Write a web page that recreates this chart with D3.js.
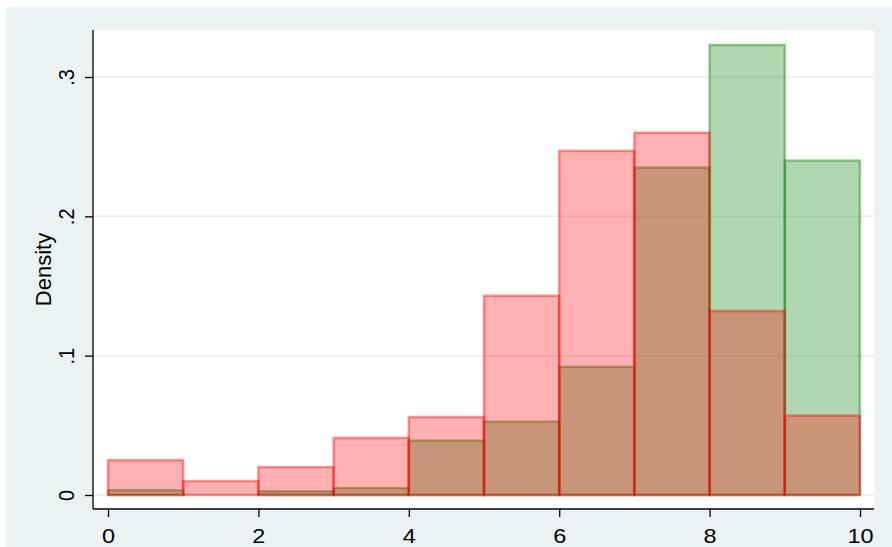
<!DOCTYPE html>
<html>
<head>
<meta charset="utf-8">
<script src="https://cdn.jsdelivr.net/npm/d3@7"></script>
<style>
  html, body { margin: 0; padding: 0; background: #ffffff; }
  svg { display: block; }
  text { font-family: "Liberation Sans", Arial, Helvetica, sans-serif; fill: #000; }
</style>
</head>
<body>
<svg id="chart" width="892" height="547"></svg>
<script>
// Histogram bins (width 1) on the 0–10 scale
const binStarts = [0, 1, 2, 3, 4, 5, 6, 7, 8, 9];
const binWidth = 1;
// Density per bin for each group
const densityGreen = [0.0034, 0.0, 0.0027, 0.005, 0.039, 0.0526, 0.092, 0.235, 0.323, 0.240];
const densityRed   = [0.025, 0.010, 0.020, 0.041, 0.056, 0.143, 0.247, 0.260, 0.132, 0.057];
// Axis ticks
const xTicks = [0, 2, 4, 6, 8, 10];
const yTicks = [0, 0.1, 0.2, 0.3];
const yTickLabels = ["0", ".1", ".2", ".3"];
const yTitle = "Density";

const svg = d3.select("#chart");
const W = 892, H = 547;
const stretch = 1.12; // labels are set slightly wide

// graph region and plot region
const plot = { left: 93, right: 874, top: 30, bottom: 509 };

svg.append("rect").attr("x", 6).attr("y", 7).attr("width", W - 6).attr("height", H - 7)
  .attr("fill", "#eaf2f3");
svg.append("rect").attr("x", plot.left).attr("y", plot.top)
  .attr("width", plot.right - plot.left).attr("height", plot.bottom - plot.top)
  .attr("fill", "#ffffff");

const x = d3.scaleLinear().domain([0, 10]).range([108, 860]);
const y = d3.scaleLinear().domain([0, 0.3]).range([495, 77]);

// horizontal gridlines
svg.append("g").selectAll("line").data(yTicks).join("line")
  .attr("x1", plot.left).attr("x2", plot.right)
  .attr("y1", d => y(d)).attr("y2", d => y(d))
  .attr("stroke", "#e4eeef").attr("stroke-width", 1.5);

function drawBars(values, color) {
  const data = binStarts.map((b, i) => ({ x0: b, x1: b + binWidth, v: values[i] }));
  svg.append("g").selectAll("rect").data(data.filter(d => d.v > 0)).join("rect")
    .attr("x", d => x(d.x0))
    .attr("width", d => x(d.x1) - x(d.x0))
    .attr("y", d => y(d.v))
    .attr("height", d => y(0) - y(d.v))
    .attr("fill", color).attr("fill-opacity", 0.31)
    .attr("stroke", color).attr("stroke-opacity", 0.4)
    .attr("stroke-width", 2.5);
}
drawBars(densityGreen, "rgb(0,128,0)");
drawBars(densityRed, "rgb(255,0,0)");

// y axis
const yAxis = d3.axisLeft(y).tickValues(yTicks)
  .tickFormat((d, i) => yTickLabels[i]).tickSize(8).tickSizeOuter(0).tickPadding(10);
const gy = svg.append("g").attr("transform", `translate(${plot.left},0)`).call(yAxis);
gy.select(".domain").remove();
gy.append("line").attr("x1", 0).attr("x2", 0).attr("y1", plot.top).attr("y2", plot.bottom)
  .attr("stroke", "#000").attr("stroke-width", 1.3);
gy.selectAll(".tick line").attr("stroke", "#000").attr("stroke-width", 1.3);
gy.selectAll(".tick text")
  .attr("font-size", 20)
  .attr("text-anchor", "middle")
  .attr("x", 0).attr("y", 0).attr("dy", 0)
  .attr("transform", `translate(-19,0) scale(${stretch},1) rotate(-90)`);

// x axis
const xAxis = d3.axisBottom(x).tickValues(xTicks).tickSize(8).tickSizeOuter(0).tickPadding(11);
const gx = svg.append("g").attr("transform", `translate(0,${plot.bottom})`).call(xAxis);
gx.select(".domain").remove();
gx.append("line").attr("x1", plot.left).attr("x2", plot.right).attr("y1", 0).attr("y2", 0)
  .attr("stroke", "#000").attr("stroke-width", 1.3);
gx.selectAll(".tick line").attr("stroke", "#000").attr("stroke-width", 1.3);
gx.selectAll(".tick text")
  .attr("font-size", 21)
  .attr("transform", `scale(${stretch},1)`)
  .attr("x", 0);

// y axis title
svg.append("text")
  .attr("transform", `translate(51,${(plot.top + plot.bottom) / 2}) rotate(-90)`)
  .attr("text-anchor", "middle")
  .attr("font-size", 22)
  .text(yTitle);
</script>
</body>
</html>
